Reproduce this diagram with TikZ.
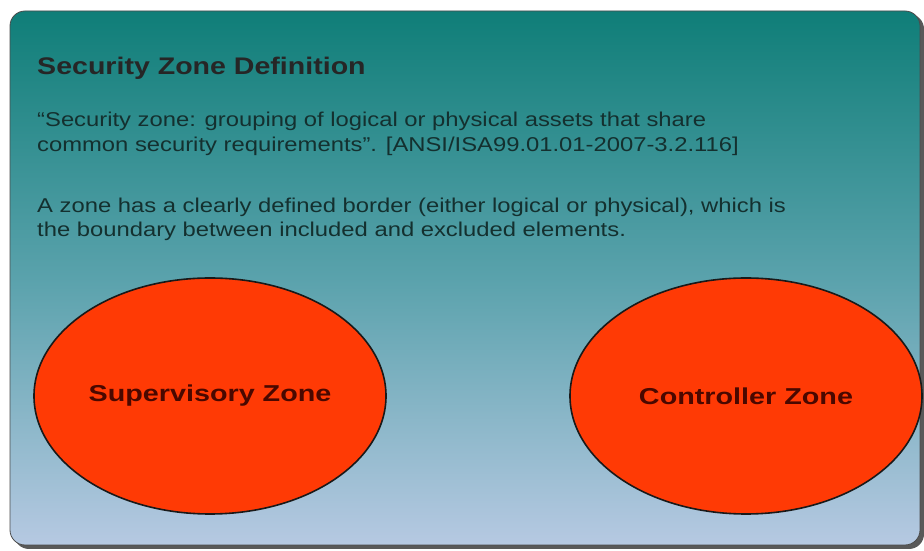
\documentclass[tikz,border=0pt]{standalone}
\usepackage{fontspec}
\setmainfont{Liberation Sans}
\usetikzlibrary{shapes.geometric}
\definecolor{topteal}{HTML}{0F7E78}
\definecolor{midteal}{HTML}{5AA2AC}
\definecolor{botblue}{HTML}{B6C9E2}
\definecolor{zonefill}{HTML}{FF3A05}
\definecolor{zonetext}{HTML}{4A0800}
\definecolor{bodytext}{HTML}{14302F}
\newcommand{\wide}[2]{\scalebox{#1}[1]{#2}}
\tikzset{
  zone/.style={ellipse, draw=black!90, line width=1.6pt, fill=zonefill,
    minimum width=352pt, minimum height=236pt, inner sep=0pt,
    font=\fontsize{23}{26}\selectfont\bfseries, text=zonetext},
  bodytxt/.style={anchor=base west, inner sep=0pt,
    font=\fontsize{20}{24}\selectfont, text=bodytext},
  titletxt/.style={anchor=base west, inner sep=0pt,
    font=\fontsize{24}{28}\selectfont\bfseries, text=black!85}
}
\begin{document}
\begin{tikzpicture}[x=1pt,y=1pt]
\useasboundingbox (0,0) rectangle (924,551);
\fill[white] (0,0) rectangle (924,551);
% shadow
\fill[black!65, rounded corners=15pt] (14,2) rectangle (924,537);
% panel
\shade[top color=topteal, bottom color=botblue, middle color=midteal, rounded corners=15pt] (10,6) rectangle (920,540);
\draw[black!70, line width=0.8pt, rounded corners=15pt] (10,6) rectangle (920,540);
% texts
\node[titletxt] (title) at (37,476) {\wide{1.19}{Security Zone Definition}};
\node[bodytxt] (q1) at (37,424) {\wide{1.19}{“Security zone: grouping of logical or physical assets that share}};
\node[bodytxt] (q2) at (37,399) {\wide{1.19}{common security requirements”. [ANSI/ISA99.01.01-2007-3.2.116]}};
\node[bodytxt] (b1) at (37,338) {\wide{1.19}{A zone has a clearly defined border (either logical or physical), which is}};
\node[bodytxt] (b2) at (37,314) {\wide{1.19}{the boundary between included and excluded elements.}};
% zones
\node[zone] (sup) at (210,155) {\wide{1.25}{Supervisory Zone}};
\node[zone] (ctl) at (746,155) {\wide{1.25}{Controller Zone}};
\end{tikzpicture}
\end{document}
